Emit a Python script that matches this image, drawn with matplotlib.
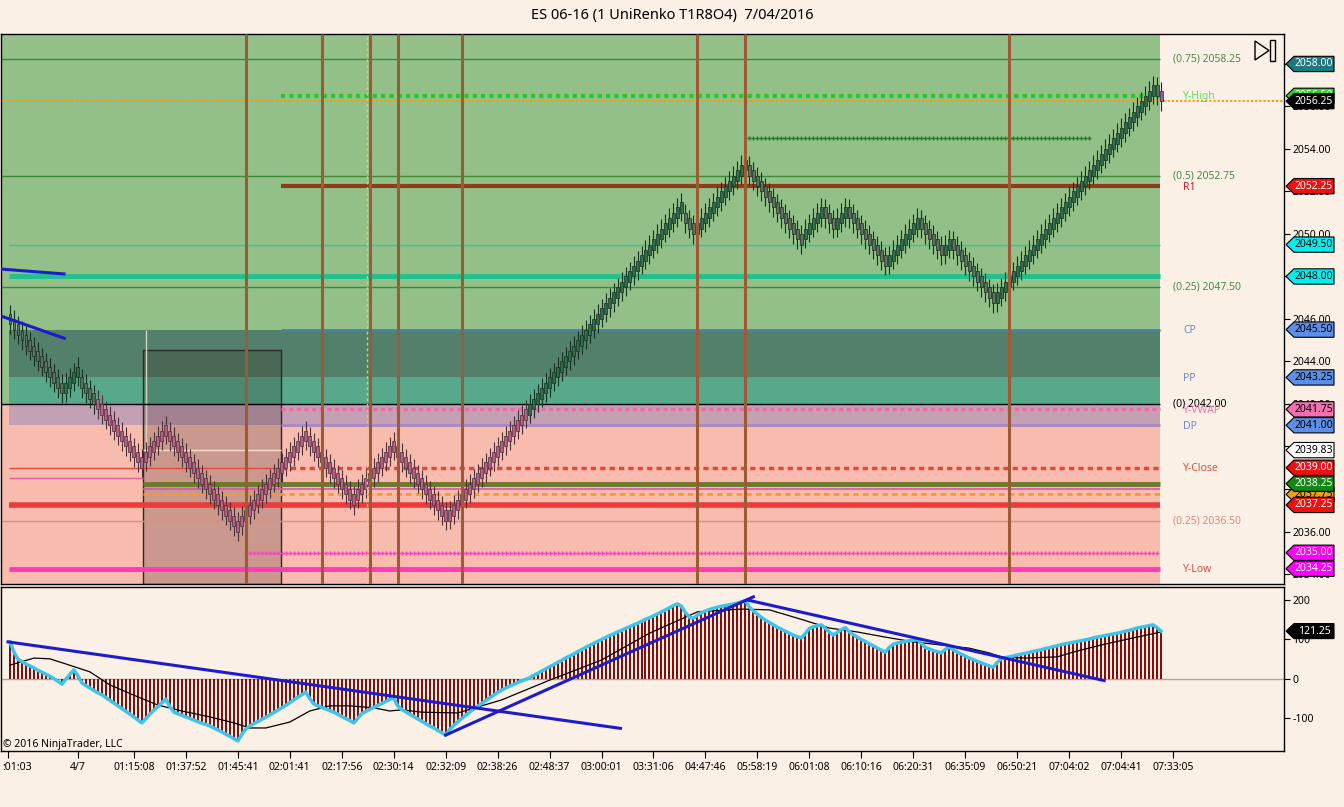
import numpy as np
import matplotlib.pyplot as plt
from matplotlib.patches import Rectangle, Polygon
from matplotlib import transforms

plt.rcParams['font.family'] = ['Noto Sans', 'DejaVu Sans']

# ---- data ----
# UniRenko closes, one brick per bar
closes = [
    2045.75, 2045.5, 2045.25, 2045.0, 2044.75, 2044.5, 2044.25, 2044.0, 2043.75, 2043.5, 2043.25, 2043.0, 2042.75, 2042.5,
    2043.0, 2043.25, 2043.5, 2043.75,
    2042.75, 2042.5, 2042.25, 2042.0, 2041.75, 2041.5, 2041.25, 2041.0, 2040.75, 2040.5, 2040.25, 2040.0, 2039.75, 2039.5, 2039.25, 2039.0,
    2039.75, 2040.0, 2040.25, 2040.5, 2040.75, 2041.0,
    2040.25, 2040.0, 2039.75, 2039.5, 2039.25, 2039.0, 2038.75, 2038.5, 2038.25, 2038.0, 2037.75, 2037.5, 2037.25, 2037.0, 2036.75, 2036.5, 2036.25, 2036.0,
    2036.75, 2037.0, 2037.25, 2037.5, 2037.75, 2038.0, 2038.25, 2038.5, 2038.75, 2039.0, 2039.25, 2039.5, 2039.75, 2040.0, 2040.25, 2040.5, 2040.75,
    2040.0, 2039.75, 2039.5, 2039.25, 2039.0, 2038.75, 2038.5, 2038.25, 2038.0, 2037.75, 2037.5, 2037.25,
    2038.0, 2038.25, 2038.5, 2038.75, 2039.0, 2039.25, 2039.5, 2039.75, 2040.0, 2040.25,
    2039.5, 2039.25, 2039.0, 2038.75, 2038.5, 2038.25, 2038.0, 2037.75, 2037.5, 2037.25, 2037.0, 2036.75, 2036.5,
    2037.0, 2037.25, 2037.5, 2037.75, 2038.0, 2038.25, 2038.5, 2038.75, 2039.0, 2039.25,
    2039.5, 2039.75, 2040.0, 2040.25, 2040.5, 2040.75, 2041.0, 2041.25, 2041.5, 2041.75,
    2042.0, 2042.25, 2042.5, 2042.75, 2043.0, 2043.25, 2043.5, 2043.75, 2044.0, 2044.25,
    2044.5, 2044.75, 2045.0, 2045.25, 2045.5, 2045.75, 2046.0, 2046.25, 2046.5, 2046.75,
    2047.0, 2047.25, 2047.5, 2047.75, 2048.0, 2048.25, 2048.5, 2048.75, 2049.0, 2049.25,
    2049.5, 2049.75, 2050.0, 2050.25, 2050.5, 2050.75, 2051.0, 2051.25, 2051.5,
    2050.5, 2050.25, 2050.0,
    2050.5, 2050.75, 2051.0, 2051.25, 2051.5, 2051.75, 2052.0, 2052.25, 2052.5, 2052.75, 2053.0, 2053.25, 2053.5,
    2052.75, 2052.5, 2052.25, 2052.0, 2051.75, 2051.5, 2051.25, 2051.0, 2050.75, 2050.5, 2050.25, 2050.0, 2049.75, 2049.5,
    2050.25, 2050.5, 2050.75, 2051.0, 2051.25,
    2050.75, 2050.5, 2050.25,
    2050.75, 2051.0, 2051.25,
    2050.75, 2050.5, 2050.25, 2050.0, 2049.75, 2049.5, 2049.25, 2049.0, 2048.75, 2048.5,
    2049.0, 2049.25, 2049.5, 2049.75, 2050.0, 2050.25, 2050.5, 2050.75,
    2050.25, 2050.0, 2049.75, 2049.5, 2049.25, 2049.0,
    2049.5, 2049.75,
    2049.25, 2049.0, 2048.75, 2048.5, 2048.25, 2048.0, 2047.75, 2047.5, 2047.25, 2047.0, 2046.75,
    2047.25, 2047.5, 2047.75, 2048.0, 2048.25, 2048.5, 2048.75, 2049.0, 2049.25, 2049.5,
    2049.75, 2050.0, 2050.25, 2050.5, 2050.75, 2051.0, 2051.25, 2051.5, 2051.75, 2052.0,
    2052.25, 2052.5, 2052.75, 2053.0, 2053.25, 2053.5, 2053.75, 2054.0, 2054.25, 2054.5,
    2054.75, 2055.0, 2055.25, 2055.5, 2055.75, 2056.0, 2056.25, 2056.5, 2056.75, 2057.0,
    2056.5, 2056.25,
]

# lower panel oscillator (histogram + cyan line)
osc = [
    94, 68, 50, 44, 38, 33, 28, 22, 17, 12, 7, 1, -6, -13,
    0, 12, 23, 8,
    -10, -17, -23, -29, -35, -40, -47, -54, -61, -68, -75, -82, -89, -96, -104, -111,
    -100, -89, -79, -70, -60, -51,
    -70, -84, -88, -92, -96, -100, -104, -108, -112, -115, -119, -124, -129, -134, -140, -145, -151, -157,
    -140, -126, -119, -113, -108, -102, -97, -91, -85, -79, -73, -67, -60, -53, -46, -40, -33,
    -50, -63, -68, -72, -76, -80, -84, -89, -95, -100, -105, -111,
    -100, -88, -82, -77, -72, -67, -62, -57, -52, -48,
    -68, -77, -83, -89, -95, -101, -107, -113, -119, -124, -130, -136, -142,
    -128, -118, -109, -100, -92, -84, -76, -69, -62, -55,
    -48, -41, -34, -28, -23, -18, -14, -9, -5, -1,
    3, 9, 14, 20, 25, 31, 36, 42, 47, 53,
    58, 63, 69, 74, 80, 85, 90, 95, 100, 105,
    110, 114, 119, 123, 128, 132, 137, 141, 146, 151,
    155, 160, 165, 170, 175, 180, 186, 190, 184,
    168, 156, 154,
    162, 168, 172, 176, 179, 182, 184, 186, 188, 190, 192, 195, 198,
    182, 172, 164, 156, 149, 143, 137, 131, 126, 121, 116, 111, 107, 104,
    115, 128, 132, 135, 137,
    128, 119, 111,
    118, 125, 130,
    119, 112, 106, 100, 95, 89, 84, 78, 73, 68,
    80, 88, 91, 93, 95, 97, 98, 100,
    90, 80, 76, 72, 69, 66,
    75, 81,
    74, 68, 63, 58, 53, 49, 45, 41, 37, 33, 30,
    42, 51, 54, 56, 58, 61, 63, 65, 67, 70,
    72, 74, 77, 79, 82, 84, 87, 89, 91, 93,
    95, 97, 99, 101, 104, 106, 108, 110, 112, 114,
    116, 118, 121, 123, 126, 129, 131, 133, 135, 137,
    130, 121.25,
]

# black average line of the oscillator (bar index, value)
ma_idx = [0, 6, 10, 14, 20, 25, 31, 37, 43, 50, 56, 60, 64, 70, 75, 80, 85, 91, 95, 98,
          103, 112, 123, 135, 148, 160, 172, 183, 190, 197, 205, 212, 219, 226, 233, 240,
          245, 248, 254, 262, 266, 273, 281, 288]
ma_val = [35, 53, 51, 38, 18, -15, -41, -66, -81, -96, -111, -124, -124, -109, -81, -68, -68, -73, -81, -78,
          -84, -86, -53, -3, 48, 116, 170, 177, 175, 154, 129, 119, 106, 94, 86, 78,
          66, 56, 53, 56, 68, 86, 104, 119]

# levels
fib_prices = [2058.25, 2052.75, 2047.50, 2042.00, 2036.50]
fib_labels = ['(0.75) 2058.25', '(0.5) 2052.75', '(0.25) 2047.50', '(0) 2042.00', '(0.25) 2036.50']
pivot_names = ['Y-High', 'R1', 'CP', 'PP', 'Y-VWAP', 'DP', 'Y-Close', 'Y-Low']
pivot_prices = [2056.50, 2052.25, 2045.50, 2043.25, 2041.75, 2041.00, 2039.00, 2034.25]
last_price = 2056.25
event_bars = [59, 78, 90, 97, 113, 172, 184, 250]

price_tags = [2058.00, 2056.50, 2056.25, 2052.25, 2049.50, 2048.00, 2045.50, 2043.25, 2041.75,
              2041.00, 2039.83, 2039.00, 2037.75, 2038.25, 2037.25, 2035.00, 2034.25]
price_ticks = [2034, 2036, 2038, 2040, 2042, 2044, 2046, 2048, 2050, 2052, 2054, 2056, 2058]
osc_ticks = [-100, 0, 100, 200]
osc_last = 121.25

x_tick_bars = [-0.5, 17, 31, 44, 57, 70, 83, 96, 109, 122, 135, 148, 161, 174, 187, 200, 213,
               226, 239, 252, 265, 278, 291]
x_tick_labels = [':01:03', '4/7', '01:15:08', '01:37:52', '01:45:41', '02:01:41', '02:17:56',
                 '02:30:14', '02:32:09', '02:38:26', '02:48:37', '03:00:01', '03:31:06', '04:47:46',
                 '05:58:19', '06:01:08', '06:10:16', '06:20:31', '06:35:09', '06:50:21', '07:04:02',
                 '07:04:41', '07:33:05']

# ---- figure ----
BG = '#fbf0e6'
W, H = 1344, 807
fig = plt.figure(figsize=(W / 100, H / 100), dpi=100, facecolor=BG)


def px_rect(l, t, r, b):
    return [l / W, 1 - b / H, (r - l) / W, (b - t) / H]


ax = fig.add_axes(px_rect(1, 34, 1284, 584), facecolor=BG)
ax2 = fig.add_axes(px_rect(1, 587, 1284, 751), facecolor=BG)
XL = (-2.25, 318.75)
XR = 287.75  # right end of drawn zones
ax.set_xlim(*XL)
ax.set_ylim(2033.53, 2059.41)
ax2.set_xlim(*XL)
ax2.set_ylim(-182.3, 232.9)
ytop, ybot = 2059.41, 2033.53

# zones
ax.add_patch(Rectangle((XL[0], 2042.0), XR - XL[0], ytop - 2042.0, fc='#92c088', ec='none', zorder=0.5))
ax.add_patch(Rectangle((XL[0], ybot), XR - XL[0], 2042.0 - ybot, fc='#f8bcaf', ec='none', zorder=0.5))
ax.add_patch(Rectangle((-0.25, 2043.25), XR + 0.25, 2045.5 - 2043.25, fc='#52806a', ec='none', zorder=0.6))
ax.add_patch(Rectangle((-0.25, 2042.0), XR + 0.25, 2043.25 - 2042.0, fc='#58a88c', ec='none', zorder=0.6))
ax.add_patch(Rectangle((-0.25, 2041.0), XR + 0.25, 2042.0 - 2041.0, fc='#c4a0b4', ec='none', zorder=0.6))
# drawn box
ax.add_patch(Rectangle((33.25, ybot), 67.75 - 33.25, 2044.54 - ybot, fc='#2a1a10', alpha=0.22,
                       ec='none', zorder=0.7))
ax.add_patch(Rectangle((33.25, ybot), 67.75 - 33.25, 2044.54 - ybot, fc='none', ec='#2a2a2a',
                       lw=1, zorder=0.8))
ax.hlines(2039.83, 33.25, 67.75, color='#f4e0d0', lw=1, zorder=0.9)
ax.vlines(34, 2039.83, 2045.5, color='#d8d0c0', lw=1, zorder=0.9)

# horizontal lines
def hl(y, x0, x1, color, lw, ls='-', z=2):
    ax.hlines(y, x0, x1, colors=color, lw=lw, linestyles=ls, zorder=z)

for p, c in zip(fib_prices, ['#3a8a3a', '#3a8a3a', '#3a8a3a', '#000000', '#e88a78']):
    hl(p, XL[0], XR, c, 1)
hl(pivot_prices[0], 67.75, XR, '#22cc22', 3, (0, (1, 1)))
hl(last_price, XL[0], XL[1], '#ff9a10', 1.5, (0, (1, 1)))
ax.plot(np.arange(185, 271), [2054.5] * 86, color='#2a7a2a', lw=1, ls=':', marker='+', ms=3, zorder=2)
hl(pivot_prices[1], 67.75, XR, '#8b3e1a', 3)
hl(2049.5, -0.25, XR, '#30c8a0', 1)
hl(2048.0, -0.25, XR, '#20c090', 3.5)
hl(pivot_prices[2], 67.75, XR, '#4a80a8', 2)
hl(pivot_prices[4], 67.75, XR, '#f06aa8', 2.5, (0, (1.2, 1)))
hl(pivot_prices[5], 67.75, XR, '#a888c0', 2)
hl(pivot_prices[6], -0.25, 67.75, '#e8463a', 1)
hl(pivot_prices[6], 67.75, XR, '#e8463a', 2.5, (0, (1.5, 1.2)))
hl(2038.5, -0.25, 33.25, '#e060a0', 1)
hl(2038.25, 33.25, XR, '#6b7a2a', 3.5)
hl(2038.0, 33.25, XR, '#e050b0', 1.2)
hl(2037.75, 33.25, XR, '#f0a020', 2, (0, (2, 1.5)))
hl(2037.25, -0.25, XR, '#ea3c3c', 4)
ax.plot(np.arange(59, 288), [2035.0] * 229, color='#ff40c8', lw=1, ls=':', marker='+', ms=3, zorder=2)
hl(pivot_prices[7], -0.25, XR, '#ff3cb4', 3.5)

# trend lines in price panel
ax.plot([-2.25, 13.5], [2048.35, 2048.12], color='#1c1ccc', lw=2.2, zorder=5)
ax.plot([-2.25, 13.6], [2046.14, 2045.09], color='#1c1ccc', lw=2.2, zorder=5)

# candles
n = len(closes)
for i, c in enumerate(closes):
    up = i > 0 and c > closes[i - 1]
    if up:
        lo, hi, b0 = c - 0.9, c + 0.45, c - 0.5
    else:
        lo, hi, b0 = c - 0.45, c + 0.9, c + 0.5
    if i == n - 1:
        fc, ec, wc = '#a060b0', '#202020', '#202020'
    elif c >= 2042.0:
        fc = '#2f6e4c' if up else '#5e6e60'
        ec, wc = '#17301f', '#17301f'
    else:
        fc, ec, wc = '#b65f86', '#4a3038', '#4a3038'
    ax.vlines(i, lo, hi, color=wc, lw=0.8, zorder=3)
    ax.add_patch(Rectangle((i - 0.37, min(b0, c)), 0.74, abs(c - b0), fc=fc, ec=ec, lw=0.5, zorder=3.1))

# session / event verticals
ax.vlines(event_bars, ybot, ytop, color='#9c5a35', lw=2.2, zorder=4)
ax.vlines(89.25, ybot, ytop, color='#d8d070', lw=1, linestyles=(0, (2, 2)), zorder=4)

# right-side labels
for p, t, c in zip(fib_prices, fib_labels, ['#4a8a4a', '#4a8a4a', '#4a8a4a', '#000000', '#e08878']):
    ax.text(291, p, t, color=c, fontsize=7.5, va='center', ha='left', zorder=6)
for p, t, c in zip(pivot_prices, pivot_names,
                   ['#66dd55', '#cc2020', '#6a8ad0', '#6a8ad0', '#ff70a0', '#6a8ad0', '#e05040', '#e05040']):
    ax.text(293.5, p - 0.05, t, color=c, fontsize=7.5, va='center', ha='left', zorder=6)

# axis styling
for a in (ax, ax2):
    for s in a.spines.values():
        s.set_color('#000000')
        s.set_linewidth(1)
    a.yaxis.tick_right()
    a.tick_params(axis='y', labelsize=7.5, length=4, pad=2, colors='#000000')
ax.set_xticks([])
ax.set_yticks(price_ticks)
ax.set_yticklabels([f'{v:.2f}' for v in price_ticks])
ax2.set_yticks(osc_ticks)
ax2.set_yticklabels([str(v) for v in osc_ticks])
ax2.set_xticks(x_tick_bars)
ax2.set_xticklabels(x_tick_labels)
ax2.tick_params(axis='x', labelsize=7.5, length=5, pad=3)
first = ax2.get_xticklabels()[0]
first.set_ha('left')
first.set_transform(first.get_transform() + transforms.ScaledTranslation(-6 / 100, 0, fig.dpi_scale_trans))

# price tags
def tag(a, y, txt, fc, tc, hh, z):
    tr = transforms.blended_transform_factory(a.transAxes, a.transData)
    x0, xb, x1 = (1286 - 1) / 1283, (1294 - 1) / 1283, (1334 - 1) / 1283
    a.add_patch(Polygon([(x0, y), (xb, y + hh), (x1, y + hh), (x1, y - hh), (xb, y - hh)], closed=True,
                        fc=fc, ec='#000000', lw=0.8, transform=tr, clip_on=False, zorder=z))
    a.text((1314 - 1) / 1283, y, txt, color=tc, fontsize=7.5, ha='center', va='center',
           transform=tr, clip_on=False, zorder=z + 0.5)

tag_fc = ['#1a7a80', '#22dd22', '#000000', '#ee1111', '#00eeee', '#00eeee', '#5b8fe8', '#5b8fe8', '#f070b0',
          '#5b8fe8', '#ffffff', '#ee1111', '#f0a000', '#118811', '#ee1111', '#ff00ff', '#ff00ff']
tag_tc = ['white', 'white', 'white', 'white', 'black', 'black', 'black', 'black', 'black',
          'black', 'black', 'white', 'black', 'white', 'white', 'white', 'white']
for k, (p, fc, tc) in enumerate(zip(price_tags, tag_fc, tag_tc)):
    tag(ax, p, f'{p:.2f}', fc, tc, 0.36, 10 + k)

# ---- oscillator panel ----
xs = np.arange(len(osc))
ax2.axhline(0, color='#a8a8a8', lw=1, zorder=1)
ax2.bar(xs, osc, width=0.5, color='#8b0a0a', zorder=2)
ax2.plot(ma_idx, ma_val, color='#000000', lw=0.9, zorder=3)
ax2.plot(xs, osc, color='#3cc4ea', lw=2.5, zorder=4)
ax2.plot([-0.5, 152.75], [94, -125], color='#1c1ccc', lw=2.2, zorder=5)
ax2.plot([109, 186], [-142, 208], color='#1c1ccc', lw=2.2, zorder=5)
ax2.plot([184.5, 273.75], [200, -4], color='#1c1ccc', lw=2.2, zorder=5)
tag(ax2, osc_last, f'{osc_last:.2f}', '#000000', 'white', 19, 40)

# ---- frame texts ----
fig.text(0.5, 1 - 16 / H, 'ES 06-16 (1 UniRenko T1R8O4)  7/04/2016', ha='center', va='center', fontsize=10.5)
fig.text(3 / W, 1 - 745 / H, '\u00a9 2016 NinjaTrader, LLC', fontsize=7.5, va='center')
fig.add_artist(Polygon([(1255 / W, 1 - 41 / H), (1255 / W, 1 - 60 / H), (1269 / W, 1 - 50.5 / H)],
                       closed=True, fc='none', ec='#000000', lw=1, transform=fig.transFigure))
fig.add_artist(Rectangle((1270 / W, 1 - 61 / H), 5 / W, 21 / H, fc='none', ec='#000000', lw=1,
                         transform=fig.transFigure))

fig.savefig('out.png', dpi=100, facecolor=BG)
